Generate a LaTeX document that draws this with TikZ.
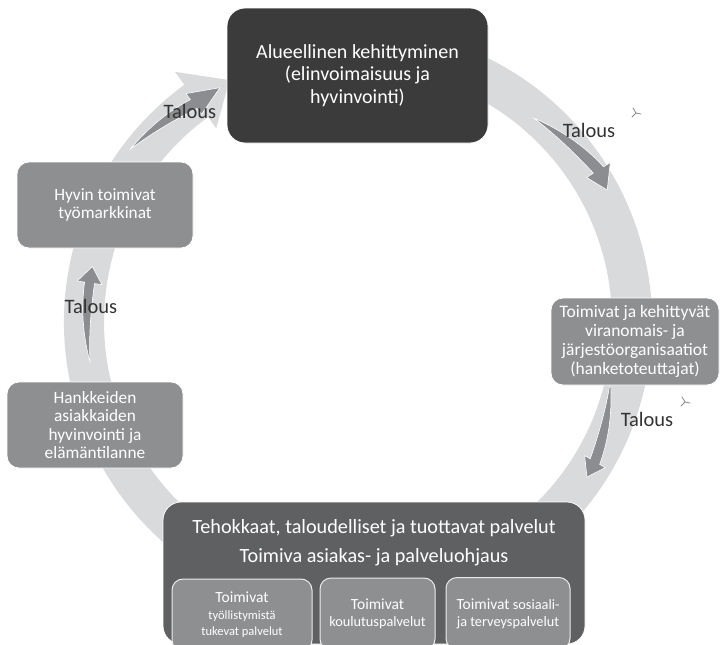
\documentclass[tikz,border=0pt]{standalone}
\usepackage{fontspec}
\setmainfont{Carlito}
\definecolor{ringc}{HTML}{D9DADC}
\definecolor{arrowc}{HTML}{8C8D90}
\definecolor{darkbox}{HTML}{3B3B3B}
\definecolor{midbox}{HTML}{5F6062}
\definecolor{graybox}{HTML}{8E8F91}
\definecolor{labelc}{HTML}{333333}
\definecolor{markc}{HTML}{8A8A8A}
\newcommand{\talarrow}[8]{% a0 r0 ab rb at rt bw hw
  \fill[arrowc, draw=white, line width=0.6pt, line join=round]
    plot[domain=#1:#3, samples=30, variable=\t]
      (\t:{#2+(\t-(#1))/((#3)-(#1))*((#4)-(#2)) + sin(90*(\t-(#1))/((#3)-(#1)))*#7/2})
    -- (#3:{#4+#8}) -- (#5:#6) -- (#3:{#4-#8})
    -- plot[domain=#3:#1, samples=30, variable=\t]
      (\t:{#2+(\t-(#1))/((#3)-(#1))*((#4)-(#2)) - sin(90*(\t-(#1))/((#3)-(#1)))*#7/2})
    -- cycle;}
\begin{document}
\begin{tikzpicture}[x=1pt,y=-1pt,
  boxbase/.style={draw=white, line width=0.8pt, align=center, text=white, inner sep=0pt},
  topbox/.style={boxbase, fill=darkbox, minimum width=261pt, minimum height=135pt,
    rounded corners=18pt, font=\fontsize{20}{22.5}\selectfont},
  sidebox/.style={boxbase, fill=graybox, rounded corners=12pt,
    font=\fontsize{17.3}{18.5}\selectfont},
  bigbox/.style={boxbase, fill=midbox, minimum width=422pt, minimum height=142pt,
    rounded corners=18pt},
  titletext/.style={text=white, inner sep=0pt, font=\fontsize{20.2}{24}\selectfont},
  subbox/.style={boxbase, fill=graybox, draw=white!85!gray, line width=1pt,
    rounded corners=11pt, minimum height=72pt, font=\fontsize{14.3}{17}\selectfont},
  taltext/.style={text=labelc, inner sep=0pt, font=\fontsize{20.5}{22}\selectfont},
  markline/.style={draw=markc, line width=0.8pt, line cap=round}
]
\useasboundingbox (0,0) rectangle (720,645);
\clip (0,0) rectangle (720,645);
\fill[white] (0,0) rectangle (720,645);

% big circular ring arrow
\begin{scope}[shift={(358,322)}]
  \coordinate (C) at (0,0);
  \fill[ringc] (-75:294) arc[start angle=-75, end angle=233.8, radius=294]
    -- (233.8:310) -- (242:274) -- (233.8:240) -- (233.8:254)
    arc[start angle=233.8, end angle=-75, radius=254] -- cycle;
  % Talous arrows
  \talarrow{217}{286}{233}{273}{239.5}{272}{11}{13}
  \talarrow{-49.4}{269}{-32.3}{284.5}{-27.9}{282}{12}{14}
  \talarrow{13}{259}{30.5}{275}{34.1}{276.5}{11}{12}
  \talarrow{171.3}{271}{188.3}{271.3}{191.8}{271.4}{10}{12.5}
\end{scope}

% boxes
\node[topbox] (top) at (357.5,75.5) {Alueellinen kehittyminen\\(elinvoimaisuus ja\\hyvinvointi)};
\node[sidebox, minimum width=176pt, minimum height=86pt] (hyvin) at (105,205)
  {Hyvin toimivat\\työmarkkinat};
\node[sidebox, minimum width=176pt, minimum height=86pt] (hank) at (95,425)
  {Hankkeiden\\asiakkaiden\\hyvinvointi ja\\elämäntilanne};
\node[sidebox, minimum width=168pt, minimum height=87pt, font=\fontsize{17.5}{19}\selectfont] (right) at (635,341.5)
  {Toimivat ja kehittyvät\\viranomais- ja\\järjestöorganisaatiot\\(hanketoteuttajat)};
\node[bigbox] (bottom) at (374,573) {};
\node[titletext] (t1) at (374,528) {Tehokkaat, taloudelliset ja tuottavat palvelut};
\node[titletext] (t2) at (374,557) {Toimiva asiakas- ja palveluohjaus};
\node[subbox, minimum width=140pt, font=\fontsize{12.5}{16.5}\selectfont] (s1) at (242,615)
  {{\fontsize{15.5}{16.5}\selectfont Toimivat}\\työllistymistä\\tukevat palvelut};
\node[subbox, minimum width=115pt] (s2) at (377.5,614)
  {{\fontsize{15.5}{17}\selectfont Toimivat}\\koulutuspalvelut};
\node[subbox, minimum width=124pt] (s3) at (508,613.5)
  {{\fontsize{15.5}{17}\selectfont Toimivat} sosiaali-\\ja terveyspalvelut};

% Talous labels
\node[taltext] (l1) at (190,111) {Talous};
\node[taltext] (l2) at (589,130) {Talous};
\node[taltext] (l3) at (647,419) {Talous};
\node[taltext] (l4) at (91,306) {Talous};

% small marks
\coordinate (m1) at (636,113);
\draw[markline] (m1) -- ++(-3,-5) (m1) -- ++(5,1) (m1) -- ++(-4,4);
\coordinate (m2) at (685,402);
\draw[markline] (m2) -- ++(-3,-5) (m2) -- ++(5,1) (m2) -- ++(-4,4);
\end{tikzpicture}
\end{document}
